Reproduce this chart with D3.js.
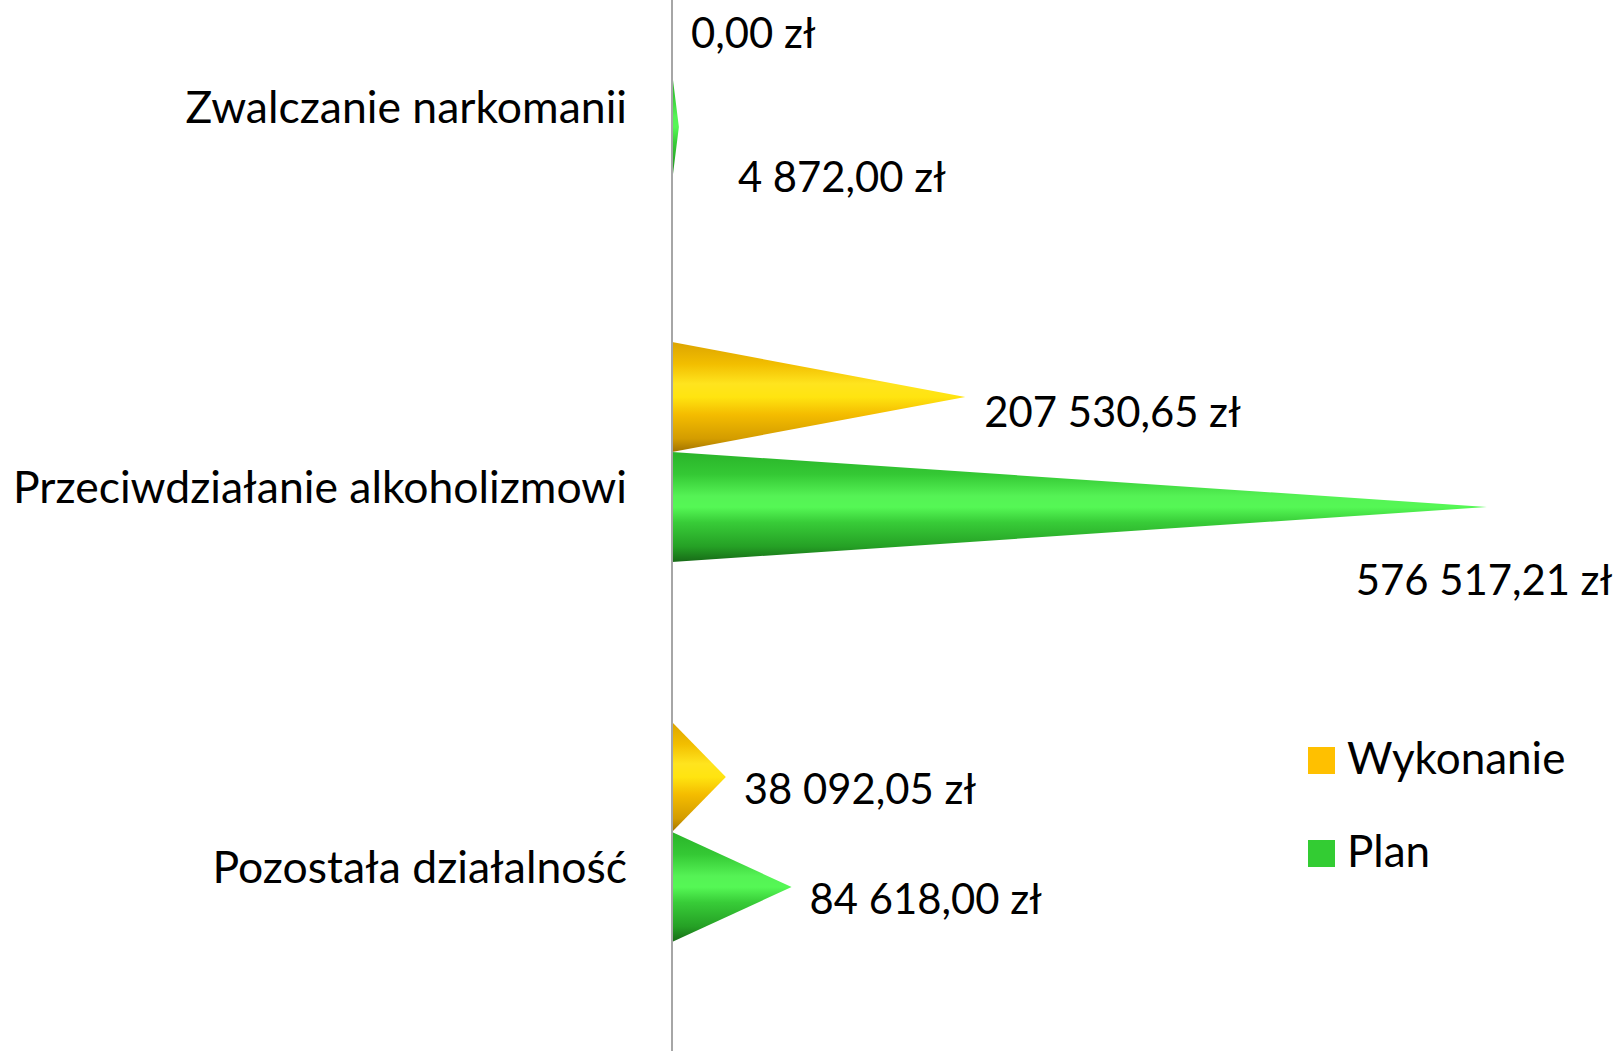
<!DOCTYPE html>
<html>
<head>
<meta charset="utf-8">
<script src="https://cdn.jsdelivr.net/npm/d3@7"></script>
<style>
  html, body { margin: 0; padding: 0; background: #ffffff; }
  svg { display: block; }
  text { font-family: Lato, "Open Sans", sans-serif; fill: #000; }
</style>
</head>
<body>
<svg id="chart" width="1620" height="1051"></svg>
<script>
// ---- data ----
const categories = ["Zwalczanie narkomanii", "Przeciwdziałanie alkoholizmowi", "Pozostała działalność"];
const seriesNames = ["Wykonanie", "Plan"];
const wykonanie = [0.00, 207530.65, 38092.05];
const plan = [4872.00, 576517.21, 84618.00];
const valueLabels = {
  Wykonanie: ["0,00 zł", "207 530,65 zł", "38 092,05 zł"],
  Plan: ["4 872,00 zł", "576 517,21 zł", "84 618,00 zł"]
};

// ---- layout (separate from data) ----
const W = 1620, H = 1051;
const axisX = 672;
const catFont = 44.5;
const valFont = 41.8;
const legFont = 44;
const colors = { Wykonanie: "#FFC000", Plan: "#33CC33" };
// label offsets relative to cone tip (dx, baseline dy)
const labelOffsets = {
  Wykonanie: [[19, 31], [19, 30], [18, 27]],
  Plan: [[59, 65], [-131, 88], [18, 27]]
};

const svg = d3.select("#chart");

const x = d3.scaleLinear().domain([0, 600000]).range([axisX, 1520]);
const y = d3.scaleBand().domain(categories).range([-118, 1022])
  .paddingInner(160 / 380).paddingOuter(80 / 380);
const ySub = d3.scaleBand().domain(seriesNames).range([0, y.bandwidth()]);

// gradients
const defs = svg.append("defs");
const gradStops = {
  Wykonanie: [[0, "#dca400"], [0.2, "#f2be00"], [0.38, "#ffe41e"], [0.5, "#ffe410"], [0.66, "#f4bc00"], [0.88, "#d39c00"], [1, "#a27300"]],
  Plan: [[0, "#2ab42a"], [0.2, "#34c834"], [0.4, "#55f255"], [0.5, "#55f855"], [0.64, "#38cc38"], [0.86, "#25a025"], [1, "#176a17"]]
};
seriesNames.forEach(s => {
  const g = defs.append("linearGradient").attr("id", "grad-" + s)
    .attr("x1", 0).attr("y1", 0).attr("x2", 0).attr("y2", 1);
  gradStops[s].forEach(([o, c]) => g.append("stop").attr("offset", o).attr("stop-color", c));
});

// rows
const rows = [];
categories.forEach((c, i) => {
  rows.push({ cat: c, i, series: "Wykonanie", value: wykonanie[i] });
  rows.push({ cat: c, i, series: "Plan", value: plan[i] });
});

// cones
svg.append("g").selectAll("path").data(rows.filter(d => d.value > 0)).join("path")
  .attr("d", d => {
    const y0 = y(d.cat) + ySub(d.series);
    const y1 = y0 + ySub.bandwidth();
    const tip = x(d.value);
    return `M${x(0)},${y0}L${tip},${(y0 + y1) / 2}L${x(0)},${y1}Z`;
  })
  .attr("fill", d => `url(#grad-${d.series})`);

// axis line
svg.append("line").attr("x1", axisX).attr("x2", axisX).attr("y1", 0).attr("y2", H)
  .attr("stroke", "#a6a6a6").attr("stroke-width", 2);

// category labels
svg.append("g").selectAll("text").data(categories).join("text")
  .attr("x", 627)
  .attr("y", d => y(d) + y.bandwidth() / 2 + 36 + 15)
  .attr("text-anchor", "end")
  .attr("font-size", catFont)
  .text(d => d);

// value labels
svg.append("g").selectAll("text").data(rows).join("text")
  .attr("x", d => x(d.value) + labelOffsets[d.series][d.i][0])
  .attr("y", d => {
    const y0 = y(d.cat) + ySub(d.series);
    return y0 + ySub.bandwidth() / 2 + labelOffsets[d.series][d.i][1];
  })
  .attr("font-size", valFont)
  .text(d => valueLabels[d.series][d.i]);

// legend
const legend = svg.append("g").selectAll("g").data(seriesNames).join("g")
  .attr("transform", (d, i) => `translate(1308, ${747 + i * 93})`);
legend.append("rect").attr("width", 27).attr("height", 27).attr("fill", d => colors[d]);
legend.append("text").attr("x", 39).attr("y", 27).attr("font-size", legFont).text(d => d);
</script>
</body>
</html>
